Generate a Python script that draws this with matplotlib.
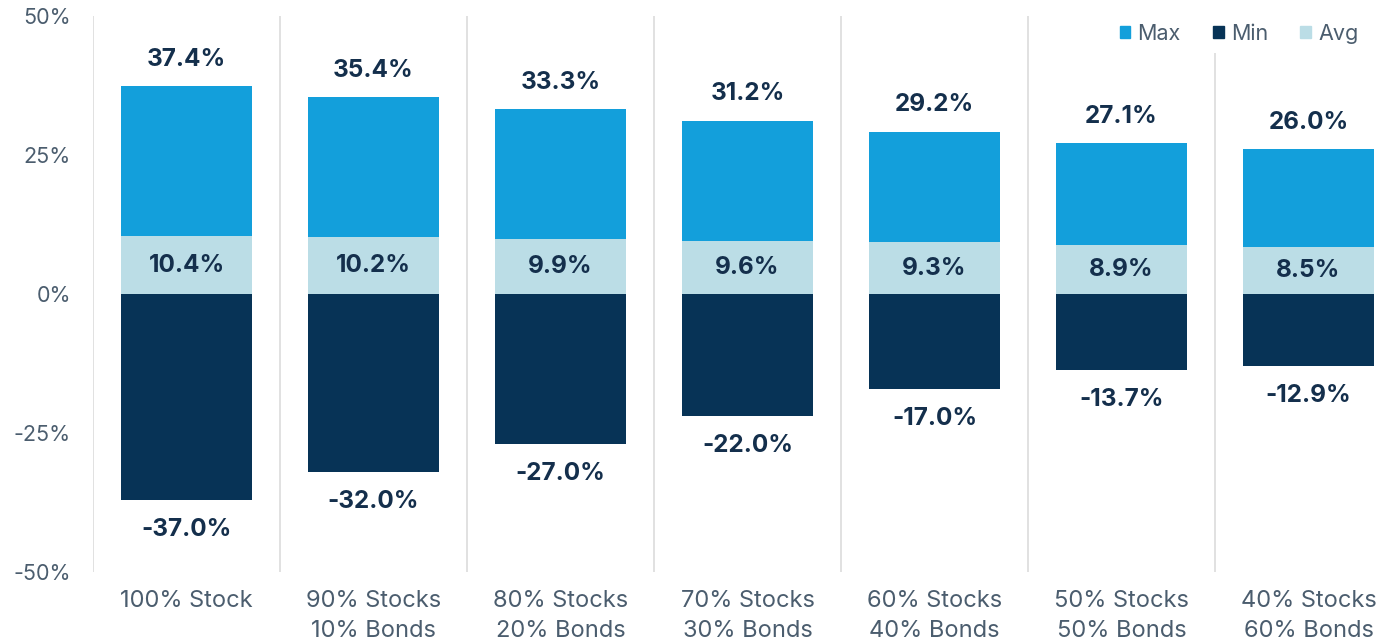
import matplotlib.pyplot as plt
from matplotlib.patches import Patch

plt.rcParams['font.family'] = ['Inter', 'DejaVu Sans']

categories = ['100% Stock', '90% Stocks\n10% Bonds', '80% Stocks\n20% Bonds',
              '70% Stocks\n30% Bonds', '60% Stocks\n40% Bonds',
              '50% Stocks\n50% Bonds', '40% Stocks\n60% Bonds']
max_vals = [37.4, 35.4, 33.3, 31.2, 29.2, 27.1, 26.0]
min_vals = [-37.0, -32.0, -27.0, -22.0, -17.0, -13.7, -12.9]
avg_vals = [10.4, 10.2, 9.9, 9.6, 9.3, 8.9, 8.5]

c_max = '#139fdb'
c_min = '#073356'
c_avg = '#bbdde6'
c_text = '#142f4c'
c_tick = '#4b5d6e'

fig = plt.figure(figsize=(13.87, 6.43), dpi=100)
ax = fig.add_axes([93 / 1387, 1 - 572 / 643, 1309 / 1387, 556 / 643])

x = list(range(len(categories)))
w = 0.705
ax.bar(x, max_vals, width=w, color=c_max, zorder=2)
ax.bar(x, avg_vals, width=w, color=c_avg, zorder=3)
ax.bar(x, min_vals, width=w, color=c_min, zorder=2)

for i in x:
    ax.annotate(f'{max_vals[i]:.1f}%', (i, max_vals[i]), xytext=(0, 11),
                textcoords='offset points', ha='center', va='bottom',
                fontsize=17.5, fontweight='bold', color=c_text)
    ax.text(i, avg_vals[i] / 2, f'{avg_vals[i]:.1f}%', ha='center', va='center',
            fontsize=17.5, fontweight='bold', color=c_text, zorder=4)
    ax.annotate(f'{min_vals[i]:.1f}%', (i, min_vals[i]), xytext=(0, -13),
                textcoords='offset points', ha='center', va='top',
                fontsize=17.5, fontweight='bold', color=c_text)

# separators between groups
for i in range(len(categories)):
    ax.axvline(i - 0.5, color='#dcdcdc', lw=1.2, zorder=1)

ax.set_xlim(-0.5, len(categories) - 0.5)
ax.set_ylim(-50, 50)
ax.set_yticks([-50, -25, 0, 25, 50])
ax.set_yticklabels(['-50%', '-25%', '0%', '25%', '50%'])
ax.set_xticks(x)
ax.set_xticklabels(categories, linespacing=1.45)
ax.tick_params(axis='y', length=0, labelsize=15.5, colors=c_tick, pad=16)
ax.tick_params(axis='x', length=0, labelsize=17, colors=c_tick, pad=13)
for s in ax.spines.values():
    s.set_visible(False)

handles = [Patch(color=c_max, label='Max'), Patch(color=c_min, label='Min'),
           Patch(color=c_avg, label='Avg')]
leg = ax.legend(handles=handles, loc='upper right', bbox_to_anchor=(0.975, 1.005),
                ncol=3, frameon=True, fontsize=15.5, handlelength=0.5,
                handleheight=0.5, handletextpad=0.33, columnspacing=1.5,
                borderaxespad=0.1)
leg.get_frame().set_edgecolor('none')
leg.get_frame().set_facecolor('white')
leg.get_frame().set_alpha(1)
leg.set_zorder(5)
for t in leg.get_texts():
    t.set_color(c_tick)

fig.savefig('out.png', dpi=100)
